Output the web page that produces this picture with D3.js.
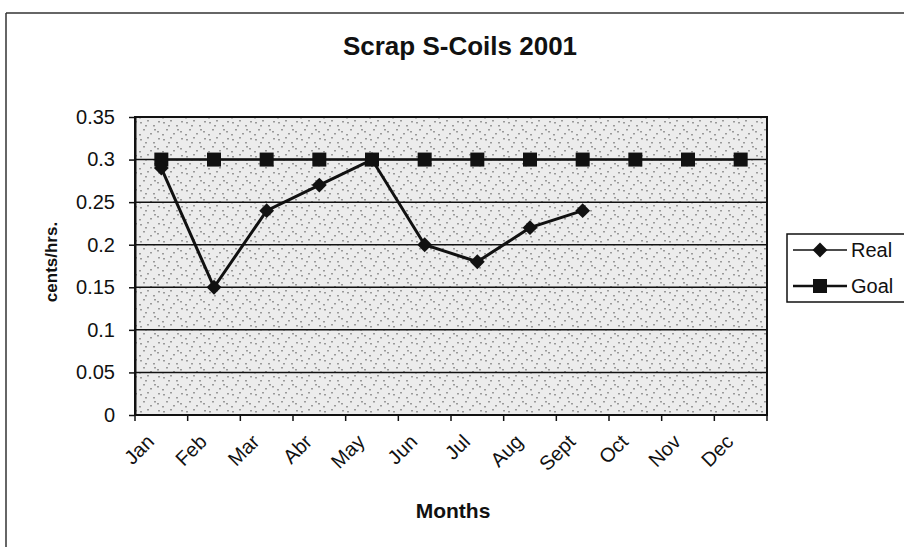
<!DOCTYPE html>
<html>
<head>
<meta charset="utf-8">
<script src="https://cdn.jsdelivr.net/npm/d3@7"></script>
<style>
  html, body { margin: 0; padding: 0; background: #fff; }
  svg { display: block; font-family: "Liberation Sans", Arial, sans-serif; }
</style>
</head>
<body>
<svg id="chart" width="904" height="547"></svg>
<script>
// Months shown along the category axis
const months = ["Jan", "Feb", "Mar", "Abr", "May", "Jun", "Jul", "Aug", "Sept", "Oct", "Nov", "Dec"];
// Actual scrap cost (cents/hrs.), reported through September
const realValues = [0.29, 0.15, 0.24, 0.27, 0.30, 0.20, 0.18, 0.22, 0.24];
// Target value for every month
const goalValues = [0.3, 0.3, 0.3, 0.3, 0.3, 0.3, 0.3, 0.3, 0.3, 0.3, 0.3, 0.3];
// Value axis ticks
const yTicks = [0, 0.05, 0.1, 0.15, 0.2, 0.25, 0.3, 0.35];

const svg = d3.select("#chart");
const plot = { left: 135, right: 767, top: 117, bottom: 415 };
const ink = "#111";

const x = d3.scaleBand().domain(months).range([plot.left, plot.right]);
const y = d3.scaleLinear().domain([0, 0.35]).range([plot.bottom, plot.top]);
const cx = d => x(d) + x.bandwidth() / 2;

// Stippled grey fill for the plot area
const defs = svg.append("defs");
const pat = defs.append("pattern")
  .attr("id", "stipple").attr("patternUnits", "userSpaceOnUse")
  .attr("width", 23).attr("height", 17);
pat.append("rect").attr("width", 23).attr("height", 17).attr("fill", "#ececec");
[[2, 3], [9, 1], [15, 6], [5, 10], [19, 12], [12, 14], [1, 15], [20, 2], [7, 6], [16, 10]].forEach(([a, b]) => {
  pat.append("rect").attr("x", a).attr("y", b).attr("width", 2).attr("height", 1.5).attr("fill", "#9a9a9a");
});

// Outer chart frame (top and left edges)
svg.append("line").attr("x1", 6).attr("x2", 904).attr("y1", 13).attr("y2", 13)
  .attr("stroke", "#333").attr("stroke-width", 1.5);
svg.append("line").attr("x1", 6).attr("x2", 6).attr("y1", 13).attr("y2", 547)
  .attr("stroke", "#333").attr("stroke-width", 1.5);

// Plot background
svg.append("rect")
  .attr("x", plot.left).attr("y", plot.top)
  .attr("width", plot.right - plot.left).attr("height", plot.bottom - plot.top)
  .attr("fill", "url(#stipple)");

// Horizontal gridlines
svg.append("g").selectAll("line").data(yTicks.filter(d => d > 0 && d < 0.35)).join("line")
  .attr("x1", plot.left).attr("x2", plot.right)
  .attr("y1", d => y(d)).attr("y2", d => y(d))
  .attr("stroke", ink).attr("stroke-width", 1.5);

// Plot border
svg.append("rect")
  .attr("x", plot.left).attr("y", plot.top)
  .attr("width", plot.right - plot.left).attr("height", plot.bottom - plot.top)
  .attr("fill", "none").attr("stroke", ink).attr("stroke-width", 2);

// Value axis
const yAxis = svg.append("g").attr("transform", `translate(${plot.left},0)`)
  .call(d3.axisLeft(y).tickValues(yTicks).tickSize(6).tickSizeOuter(0).tickFormat(d => String(+d.toFixed(2))));
yAxis.select(".domain").attr("stroke", ink).attr("stroke-width", 2);
yAxis.selectAll(".tick line").attr("stroke", ink).attr("stroke-width", 1.5);
yAxis.selectAll(".tick text").attr("fill", ink).attr("font-size", 20).attr("x", -20)
  .attr("font-family", "'Liberation Sans', Arial, sans-serif");

// Category axis with ticks at band boundaries
const xAxisG = svg.append("g").attr("transform", `translate(0,${plot.bottom})`);
const bounds = months.map(m => x(m)).concat([plot.right]);
xAxisG.selectAll("line.tk").data(bounds).join("line").attr("class", "tk")
  .attr("x1", d => d).attr("x2", d => d).attr("y1", 0).attr("y2", 6)
  .attr("stroke", ink).attr("stroke-width", 1.5);
xAxisG.selectAll("text").data(months).join("text")
  .attr("transform", d => `translate(${cx(d) - 6},${28}) rotate(-45)`)
  .attr("text-anchor", "end")
  .attr("font-size", 20).attr("fill", ink)
  .text(d => d);

// Goal series
const goalData = goalValues.map((v, i) => ({ m: months[i], v }));
svg.append("path").datum(goalData)
  .attr("d", d3.line().x(d => cx(d.m)).y(d => y(d.v)))
  .attr("fill", "none").attr("stroke", ink).attr("stroke-width", 2.5);
svg.append("g").selectAll("rect").data(goalData).join("rect")
  .attr("x", d => cx(d.m) - 7).attr("y", d => y(d.v) - 7)
  .attr("width", 14).attr("height", 14).attr("fill", ink);

// Real series
const realData = realValues.map((v, i) => ({ m: months[i], v }));
svg.append("path").datum(realData)
  .attr("d", d3.line().x(d => cx(d.m)).y(d => y(d.v)))
  .attr("fill", "none").attr("stroke", ink).attr("stroke-width", 3);
const diamond = d3.symbol().type(d3.symbolSquare).size(110);
svg.append("g").selectAll("path").data(realData).join("path")
  .attr("transform", d => `translate(${cx(d.m)},${y(d.v)}) rotate(45)`)
  .attr("d", diamond).attr("fill", ink);

// Title and axis titles
svg.append("text").attr("x", 460).attr("y", 55).attr("text-anchor", "middle")
  .attr("font-size", 26).attr("font-weight", "bold").attr("fill", ink)
  .text("Scrap S-Coils 2001");
svg.append("text").attr("transform", `translate(57,262) rotate(-90)`)
  .attr("text-anchor", "middle").attr("font-size", 17).attr("font-weight", "bold").attr("fill", ink)
  .text("cents/hrs.");
svg.append("text").attr("x", 453).attr("y", 518).attr("text-anchor", "middle")
  .attr("font-size", 21).attr("font-weight", "bold").attr("fill", ink)
  .text("Months");

// Legend
const legend = svg.append("g");
legend.append("rect").attr("x", 787).attr("y", 234).attr("width", 122).attr("height", 68)
  .attr("fill", "#fff").attr("stroke", ink).attr("stroke-width", 1.5);
const entries = [
  { name: "Real", sym: "diamond", yy: 250 },
  { name: "Goal", sym: "square", yy: 286 }
];
entries.forEach(e => {
  legend.append("line").attr("x1", 793).attr("x2", 847).attr("y1", e.yy).attr("y2", e.yy)
    .attr("stroke", ink).attr("stroke-width", e.sym === "square" ? 2.5 : 1.5);
  if (e.sym === "diamond") {
    legend.append("path").attr("transform", `translate(820,${e.yy}) rotate(45)`).attr("d", diamond).attr("fill", ink);
  } else {
    legend.append("rect").attr("x", 813).attr("y", e.yy - 7).attr("width", 14).attr("height", 14).attr("fill", ink);
  }
  legend.append("text").attr("x", 851).attr("y", e.yy + 7).attr("font-size", 20).attr("fill", ink).text(e.name);
});
</script>
</body>
</html>
